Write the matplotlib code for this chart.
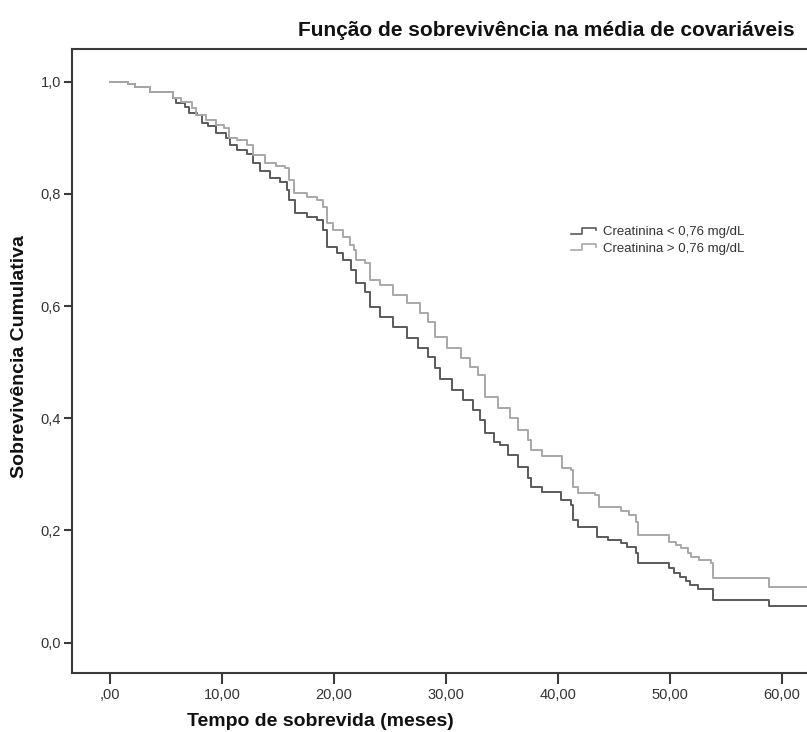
import matplotlib
matplotlib.use("Agg")
import matplotlib.pyplot as plt
from matplotlib.legend_handler import HandlerBase
from matplotlib.lines import Line2D

plt.rcParams['font.family'] = ['Liberation Sans', 'DejaVu Sans']

# Survival step curves (time in months, cumulative survival)
t_baixa = [0, 1.6, 2.2, 3.6, 5.6, 5.9, 6.7, 7.1, 7.8, 8.2, 8.75, 9.5, 10.4, 10.7,
           11.3, 12.2, 12.8, 13.4, 14.3, 15.2, 15.8, 16.0, 16.5, 17.6, 18.5, 19.0,
           19.4, 20.3, 20.8, 21.5, 22.0, 22.8, 23.2, 24.1, 25.3, 26.5, 27.5, 28.4,
           29.0, 29.5, 30.5, 31.5, 32.4, 33.0, 33.5, 34.3, 34.8, 35.5, 36.4, 37.3,
           37.6, 38.6, 40.3, 41.2, 41.3, 41.8, 43.5, 44.5, 45.6, 46.2, 47.0, 47.1,
           49.9, 50.4, 50.9, 51.4, 51.8, 52.5, 53.8, 58.8, 62.3]
s_baixa = [1.0, 0.995, 0.99, 0.982, 0.97, 0.962, 0.955, 0.944, 0.94, 0.926, 0.92,
           0.908, 0.90, 0.887, 0.878, 0.87, 0.855, 0.84, 0.828, 0.821, 0.807, 0.789,
           0.766, 0.759, 0.753, 0.735, 0.705, 0.694, 0.682, 0.664, 0.641, 0.625,
           0.598, 0.58, 0.563, 0.543, 0.525, 0.51, 0.49, 0.47, 0.45, 0.433, 0.415,
           0.397, 0.374, 0.358, 0.352, 0.334, 0.313, 0.293, 0.278, 0.268, 0.254,
           0.245, 0.219, 0.206, 0.188, 0.183, 0.178, 0.17, 0.16, 0.142, 0.133,
           0.125, 0.117, 0.11, 0.103, 0.095, 0.076, 0.065, 0.065]

t_alta = [0, 1.6, 2.2, 3.6, 5.6, 6.3, 7.3, 7.7, 8.6, 9.5, 10.2, 10.6, 11.3, 12.2,
          12.8, 13.8, 14.8, 15.6, 16.0, 16.4, 17.6, 18.5, 19.0, 19.4, 19.9, 20.8,
          21.4, 21.8, 22.0, 22.8, 23.2, 24.1, 25.3, 26.5, 27.7, 28.4, 29.0, 30.1,
          31.3, 32.1, 32.9, 33.5, 34.6, 35.7, 36.4, 37.3, 37.6, 38.6, 40.4, 41.2,
          41.3, 41.8, 43.3, 43.7, 45.6, 46.3, 47.0, 47.1, 49.9, 50.5, 51.0, 51.6,
          51.9, 52.6, 53.7, 53.8, 58.8, 62.3]
s_alta = [1.0, 0.995, 0.99, 0.982, 0.97, 0.963, 0.953, 0.94, 0.932, 0.922, 0.917,
          0.90, 0.895, 0.887, 0.869, 0.855, 0.85, 0.846, 0.825, 0.801, 0.795, 0.789,
          0.777, 0.748, 0.735, 0.723, 0.709, 0.70, 0.682, 0.676, 0.646, 0.637, 0.62,
          0.605, 0.588, 0.572, 0.545, 0.525, 0.507, 0.491, 0.477, 0.438, 0.418, 0.40,
          0.379, 0.361, 0.343, 0.332, 0.311, 0.308, 0.278, 0.267, 0.263, 0.242,
          0.235, 0.228, 0.215, 0.192, 0.18, 0.174, 0.168, 0.16, 0.153, 0.147, 0.142,
          0.115, 0.10, 0.10]

x_ticks = [0, 10, 20, 30, 40, 50, 60]
x_labels = [',00', '10,00', '20,00', '30,00', '40,00', '50,00', '60,00']
y_ticks = [0.0, 0.2, 0.4, 0.6, 0.8, 1.0]
y_labels = ['0,0', '0,2', '0,4', '0,6', '0,8', '1,0']

grupos = ['Creatinina < 0,76 mg/dL', 'Creatinina > 0,76 mg/dL']
cores = ['#5a5a5a', '#a8a8a8']


class StepHandler(HandlerBase):
    # small step glyph like the SPSS legend
    def create_artists(self, legend, orig_handle, xdescent, ydescent,
                       width, height, fontsize, trans):
        w, h = width, height
        xs = [0, 0.4 * w, 0.4 * w, 0.95 * w, 0.95 * w]
        ys = [0.15 * h, 0.15 * h, 0.85 * h, 0.85 * h, 0.55 * h]
        ln = Line2D(xs, ys, color=orig_handle.get_color(), lw=1.2, transform=trans)
        return [ln]


fig = plt.figure(figsize=(8.07, 7.32), dpi=100)
ax = fig.add_axes([72 / 807, (732 - 673) / 732, (807 - 72) / 807, (673 - 49) / 732])

h1, = ax.plot(t_baixa, s_baixa, drawstyle='steps-post', color=cores[0], lw=1.4)
h2, = ax.plot(t_alta, s_alta, drawstyle='steps-post', color=cores[1], lw=1.4)

ax.set_xlim(-3.39, 62.23)
ax.set_ylim(-0.054, 1.058)
ax.set_xticks(x_ticks)
ax.set_xticklabels(x_labels)
ax.set_yticks(y_ticks)
ax.set_yticklabels(y_labels)

for side in ['left', 'bottom', 'top']:
    ax.spines[side].set_color('#3a3a3a')
    ax.spines[side].set_linewidth(1.5)
ax.spines['right'].set_visible(False)
ax.tick_params(axis='x', length=8, width=1.5, color='#3a3a3a', labelsize=10.5,
               labelcolor='#333333', pad=3)
ax.tick_params(axis='y', length=6, width=1.5, color='#3a3a3a', labelsize=10.5,
               labelcolor='#333333', pad=2)

leg = ax.legend([h1, h2], grupos, handler_map={Line2D: StepHandler()},
                loc='upper left', bbox_to_anchor=(0.663, 0.735), frameon=False,
                fontsize=9.5, handlelength=2.0, handletextpad=0.4, labelspacing=0.3)
for txt in leg.get_texts():
    txt.set_color('#333333')

fig.text(795 / 807, 1 - 31 / 732, 'Função de sobrevivência na média de covariáveis',
         ha='right', va='center', fontsize=15, fontweight='bold', color='#111111')
fig.text(320 / 807, 1 - 722 / 732, 'Tempo de sobrevida (meses)',
         ha='center', va='center', fontsize=14, fontweight='bold', color='#111111')
fig.text(20 / 807, 1 - 357 / 732, 'Sobrevivência Cumulativa', rotation=90,
         ha='center', va='center', fontsize=14, fontweight='bold', color='#111111')

fig.savefig('out.png', dpi=100)
